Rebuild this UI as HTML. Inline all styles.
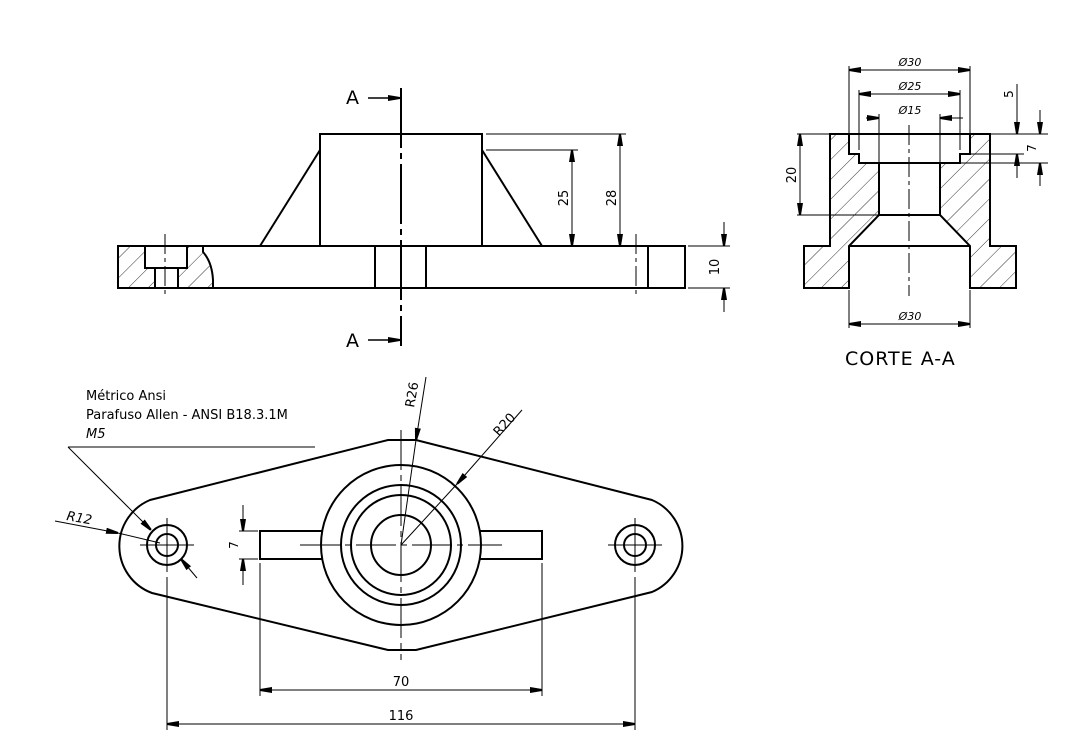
<!DOCTYPE html>
<html><head><meta charset="utf-8"><style>
html,body{margin:0;padding:0;background:#fff;}
svg{display:block;}
text{font-family:"DejaVu Sans","Liberation Sans",sans-serif;fill:#000;}
</style></head><body>
<svg width="1088" height="754" viewBox="0 0 1088 754" xmlns="http://www.w3.org/2000/svg">
<defs>
<pattern id="h" patternUnits="userSpaceOnUse" width="14" height="14" patternTransform="rotate(45)">
<rect width="14" height="14" fill="#fff"/><line x1="0" y1="0" x2="0" y2="14" stroke="#000" stroke-width="0.8"/>
</pattern>
<marker id="a" markerWidth="12" markerHeight="8" refX="12" refY="4" orient="auto-start-reverse" markerUnits="userSpaceOnUse"><path d="M0,1 L12,3 L12,5 L0,7 z" fill="#000"/></marker>
</defs>

<!-- FRONT VIEW -->
<g fill="none" stroke="#000" stroke-width="2">
<rect x="118" y="246" width="567" height="42" fill="#fff"/>
<path d="M118,246 H145 V268 H155 V288 H118 Z" fill="url(#h)"/>
<path d="M187,246 V268 H178 V288 H213 V280 Q212,262 203,252 V246 Z" fill="url(#h)"/>
<rect x="145" y="246" width="42" height="22"/>
<line x1="155" y1="268" x2="155" y2="288"/><line x1="178" y1="268" x2="178" y2="288"/>
<rect x="320" y="134" width="162" height="112"/>
<line x1="320" y1="150" x2="260" y2="246"/><line x1="482" y1="150" x2="542" y2="246"/>
<line x1="375" y1="246" x2="375" y2="288"/><line x1="426" y1="246" x2="426" y2="288"/>
<line x1="648" y1="246" x2="648" y2="288"/>
</g>
<g stroke="#000" stroke-width="1" fill="none">
<line x1="401" y1="88" x2="401" y2="346" stroke-width="2" stroke-dasharray="60,5,6,5"/>
<line x1="165" y1="234" x2="165" y2="295" stroke-dasharray="20,4,4,4"/>
<line x1="636" y1="234" x2="636" y2="295" stroke-dasharray="20,4,4,4"/>
<line x1="486" y1="134" x2="626" y2="134"/><line x1="486" y1="150" x2="578" y2="150"/>
<line x1="572" y1="150" x2="572" y2="246" marker-start="url(#a)" marker-end="url(#a)"/>
<line x1="620" y1="134" x2="620" y2="246" marker-start="url(#a)" marker-end="url(#a)"/>
<line x1="688" y1="246" x2="730" y2="246"/><line x1="688" y1="288" x2="730" y2="288"/>
<line x1="724" y1="222" x2="724" y2="246" marker-end="url(#a)"/>
<line x1="724" y1="312" x2="724" y2="288" marker-end="url(#a)"/>
<line x1="368" y1="98" x2="400" y2="98" stroke-width="1.5" marker-end="url(#a)"/>
<line x1="368" y1="340" x2="400" y2="340" stroke-width="1.5" marker-end="url(#a)"/>
</g>
<text x="346" y="104" font-size="19">A</text>
<text x="346" y="347" font-size="19">A</text>
<text transform="translate(568,198) rotate(-90)" font-size="13" text-anchor="middle">25</text>
<text transform="translate(616,198) rotate(-90)" font-size="13" text-anchor="middle">28</text>
<text transform="translate(719,267) rotate(-90)" font-size="13" text-anchor="middle">10</text>

<!-- SECTION A-A -->
<g stroke="#000" stroke-width="2">
<path d="M830,134 H849 V154 H859 V163 H879 V215 L849,246 V288 H804 V246 H830 Z" fill="url(#h)"/>
<path d="M990,134 H970 V154 H960 V163 H940 V215 L970,246 V288 H1016 V246 H990 Z" fill="url(#h)"/>
<path d="M849,134 H970 M859,163 H960 M879,215 H940 M849,246 H970" fill="none"/>
</g>
<g stroke="#000" stroke-width="1" fill="none">
<line x1="909" y1="125" x2="909" y2="296" stroke-dasharray="20,4,4,4"/>
<line x1="849" y1="66" x2="849" y2="134"/><line x1="970" y1="66" x2="970" y2="134"/>
<line x1="849" y1="70" x2="970" y2="70" marker-start="url(#a)" marker-end="url(#a)"/>
<line x1="859" y1="90" x2="859" y2="150"/><line x1="960" y1="90" x2="960" y2="150"/>
<line x1="859" y1="94" x2="960" y2="94" marker-start="url(#a)" marker-end="url(#a)"/>
<line x1="879" y1="114" x2="879" y2="163"/><line x1="940" y1="114" x2="940" y2="163"/>
<line x1="866" y1="118" x2="879" y2="118" marker-end="url(#a)"/>
<line x1="963" y1="118" x2="940" y2="118" marker-end="url(#a)"/>
<line x1="797" y1="134" x2="830" y2="134"/><line x1="797" y1="215" x2="879" y2="215"/>
<line x1="800" y1="134" x2="800" y2="215" marker-start="url(#a)" marker-end="url(#a)"/>
<line x1="990" y1="134" x2="1048" y2="134"/><line x1="960" y1="154" x2="1024" y2="154"/><line x1="940" y1="163" x2="1048" y2="163"/>
<line x1="1017" y1="84" x2="1017" y2="134" marker-end="url(#a)"/>
<line x1="1017" y1="178" x2="1017" y2="154" marker-end="url(#a)"/>
<line x1="1040" y1="110" x2="1040" y2="134" marker-end="url(#a)"/>
<line x1="1040" y1="186" x2="1040" y2="163" marker-end="url(#a)"/>
<line x1="849" y1="290" x2="849" y2="328"/><line x1="970" y1="290" x2="970" y2="328"/>
<line x1="849" y1="324" x2="970" y2="324" marker-start="url(#a)" marker-end="url(#a)"/>
</g>
<text x="910" y="66" font-size="11" font-style="italic" text-anchor="middle">Ø30</text>
<text x="910" y="90" font-size="11" font-style="italic" text-anchor="middle">Ø25</text>
<text x="910" y="114" font-size="11" font-style="italic" text-anchor="middle">Ø15</text>
<text x="910" y="320" font-size="11" font-style="italic" text-anchor="middle">Ø30</text>
<text transform="translate(796,175) rotate(-90)" font-size="13" text-anchor="middle">20</text>
<text transform="translate(1013,94) rotate(-90)" font-size="12" text-anchor="middle">5</text>
<text transform="translate(1036,148) rotate(-90)" font-size="12" text-anchor="middle">7</text>
<text x="845" y="365" font-size="19" letter-spacing="1">CORTE A-A</text>

<!-- TOP VIEW -->
<g fill="none" stroke="#000" stroke-width="2">
<path d="M150,500 L388,440 H416 L652,500 A50,50 0 0 1 652,592 L416,650 H388 L152,593 A50,50 0 0 1 150,500 Z"/>
<path d="M322,531 H260 V559 H322 M480,531 H542 V559 H480"/>
<circle cx="401" cy="545" r="80"/>
<circle cx="401" cy="545" r="60"/>
<circle cx="401" cy="545" r="50"/>
<circle cx="401" cy="545" r="30"/>
<circle cx="167" cy="545" r="20"/><circle cx="167" cy="545" r="11"/>
<circle cx="635" cy="545" r="20"/><circle cx="635" cy="545" r="11"/>
</g>
<g stroke="#000" stroke-width="1" fill="none">
<line x1="401" y1="430" x2="401" y2="660" stroke-dasharray="40,5,6,5"/>
<line x1="300" y1="545" x2="502" y2="545" stroke-dasharray="40,5,6,5"/>
<line x1="140" y1="545" x2="194" y2="545"/><line x1="167" y1="518" x2="167" y2="572"/>
<line x1="608" y1="545" x2="662" y2="545"/><line x1="635" y1="518" x2="635" y2="572"/>
<line x1="167" y1="577" x2="167" y2="730"/><line x1="635" y1="577" x2="635" y2="730"/>
<line x1="260" y1="563" x2="260" y2="696"/><line x1="542" y1="563" x2="542" y2="696"/>
<line x1="260" y1="690" x2="542" y2="690" marker-start="url(#a)" marker-end="url(#a)"/>
<line x1="167" y1="724" x2="635" y2="724" marker-start="url(#a)" marker-end="url(#a)"/>
<line x1="239" y1="531" x2="258" y2="531"/><line x1="239" y1="559" x2="258" y2="559"/>
<line x1="243" y1="505" x2="243" y2="531" marker-end="url(#a)"/>
<line x1="243" y1="585" x2="243" y2="559" marker-end="url(#a)"/>
<line x1="68" y1="447" x2="315" y2="447"/>
<line x1="68" y1="447" x2="151" y2="530" marker-end="url(#a)"/>
<line x1="197" y1="578" x2="181" y2="559" marker-end="url(#a)"/>
<line x1="55" y1="521" x2="118" y2="533" marker-end="url(#a)"/>
<line x1="118" y1="533" x2="160" y2="543"/>
<line x1="426" y1="377" x2="416" y2="440" marker-end="url(#a)"/>
<line x1="416" y1="440" x2="401" y2="545"/>
<line x1="522" y1="410" x2="457" y2="484" marker-end="url(#a)"/>
<line x1="457" y1="484" x2="401" y2="545"/>
</g>
<text x="86" y="400" font-size="13">Métrico Ansi</text>
<text x="86" y="419" font-size="13">Parafuso Allen - ANSI B18.3.1M</text>
<text x="86" y="438" font-size="13" font-style="italic">M5</text>
<text x="66" y="520" font-size="13" font-style="italic" transform="rotate(10,66,520)">R12</text>
<text transform="translate(414,408) rotate(-80)" font-size="13">R26</text>
<text transform="translate(499,437) rotate(-48)" font-size="13">R20</text>
<text transform="translate(238,545) rotate(-90)" font-size="12" text-anchor="middle">7</text>
<text x="401" y="686" font-size="13" text-anchor="middle">70</text>
<text x="401" y="720" font-size="13" text-anchor="middle">116</text>
</svg>
</body></html>
